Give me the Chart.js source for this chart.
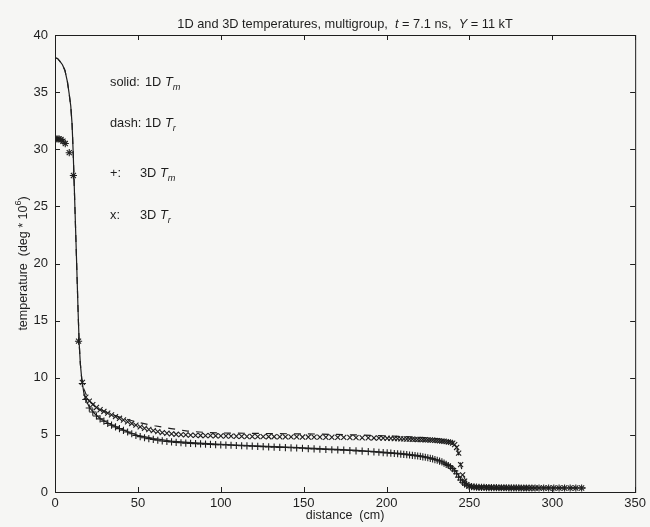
<!DOCTYPE html>
<html>
<head>
<script src="https://cdn.jsdelivr.net/npm/chart.js@4"></script>
<style>
  body { margin: 0; background: #f6f6f4; }
  canvas { display: block; }
</style>
</head>
<body>
<canvas id="chart" width="650" height="527"></canvas>
<script>
// 3D run: marker positions (cm) and temperatures (deg * 10^6)
const grid3d = [
  0, 1.2, 2.4, 3.6, 4.8, 6.2, 8.6, 11.1, 14.2, 16.5,
  18.6, 20.7, 22.8, 25.0, 27.2, 29.5, 31.8, 34.1, 36.5, 38.9,
  41.3, 43.8, 46.3, 48.8, 51.4, 54.0, 56.6, 59.3, 62.0, 64.7,
  67.5, 70.3, 73.1, 76.0, 78.9, 81.8, 84.8, 87.8, 90.8, 93.8,
  96.9, 100.0, 103.1, 106.2, 109.4, 112.6, 115.8, 119.0, 122.3, 125.6,
  128.9, 132.2, 135.6, 139.0, 142.4, 145.8, 149.3, 152.8, 156.3, 159.8,
  163.4, 167.0, 170.6, 174.2, 177.9, 181.6, 185.3, 189.0, 192.4, 195.4,
  198.0, 200.4, 202.6, 204.7, 206.7, 208.6, 210.4, 212.2, 213.9, 215.6,
  217.2, 218.8, 220.4, 221.9, 223.4, 224.9, 226.4, 227.8, 229.2, 230.6,
  232.0, 233.4, 234.7, 236.0, 237.3, 238.6, 239.9, 241.1, 242.3, 243.5,
  244.7, 245.9, 247.1, 248.4, 249.8, 251.3, 252.8, 254.3, 255.8, 257.3,
  258.8, 260.3, 261.8, 263.3, 264.8, 266.3, 267.8, 269.3, 270.8, 272.3,
  273.8, 275.3, 276.8, 278.3, 279.8, 281.3, 282.8, 284.4, 286.0, 287.7,
  289.6, 292.0, 294.8, 297.8, 300.9, 304.1, 307.4, 310.8, 314.2, 317.7
];
const tm3d = [
  30.9, 30.9, 30.9, 30.85, 30.7, 30.5, 29.7, 27.7, 13.2, 9.5,
  8.1, 7.35, 7.0, 6.65, 6.4, 6.2, 6.0, 5.85, 5.7, 5.55,
  5.4, 5.25, 5.1, 4.95, 4.85, 4.75, 4.67, 4.6, 4.53, 4.47,
  4.42, 4.38, 4.34, 4.31, 4.28, 4.25, 4.23, 4.21, 4.19, 4.17,
  4.15, 4.13, 4.11, 4.09, 4.07, 4.05, 4.03, 4.01, 3.99, 3.97,
  3.95, 3.93, 3.91, 3.89, 3.87, 3.85, 3.83, 3.8, 3.77, 3.74,
  3.72, 3.7, 3.68, 3.66, 3.63, 3.6, 3.57, 3.54, 3.51, 3.48,
  3.45, 3.42, 3.4, 3.37, 3.35, 3.32, 3.3, 3.27, 3.24, 3.21,
  3.18, 3.15, 3.12, 3.08, 3.04, 3.0, 2.95, 2.9, 2.84, 2.78,
  2.71, 2.63, 2.53, 2.42, 2.32, 2.2, 2.05, 1.85, 1.6, 1.3,
  1.05, 0.85, 0.7, 0.6, 0.52, 0.47, 0.44, 0.42, 0.41, 0.4,
  0.4, 0.39, 0.39, 0.38, 0.38, 0.38, 0.37, 0.37, 0.37, 0.37,
  0.36, 0.36, 0.36, 0.36, 0.36, 0.35, 0.35, 0.35, 0.35, 0.35,
  0.35, 0.35, 0.35, 0.35, 0.35, 0.35, 0.35, 0.35, 0.35, 0.35
];
const tr3d = [
  30.9, 30.9, 30.9, 30.85, 30.7, 30.5, 29.7, 27.7, 13.2, 9.6,
  8.3, 7.95, 7.65, 7.4, 7.2, 7.05, 6.9, 6.75, 6.6, 6.45,
  6.3, 6.15, 6.0, 5.85, 5.7, 5.58, 5.47, 5.37, 5.28, 5.2,
  5.14, 5.09, 5.05, 5.02, 5.0, 4.98, 4.96, 4.95, 4.94, 4.93,
  4.92, 4.91, 4.9, 4.89, 4.88, 4.87, 4.86, 4.86, 4.85, 4.85,
  4.84, 4.84, 4.83, 4.83, 4.82, 4.82, 4.81, 4.81, 4.8, 4.8,
  4.79, 4.79, 4.78, 4.78, 4.77, 4.76, 4.75, 4.74, 4.73, 4.72,
  4.71, 4.7, 4.69, 4.68, 4.67, 4.66, 4.65, 4.64, 4.63, 4.62,
  4.61, 4.6, 4.59, 4.58, 4.57, 4.56, 4.55, 4.54, 4.52, 4.5,
  4.48, 4.46, 4.44, 4.41, 4.38, 4.34, 4.28, 4.15, 3.9, 3.4,
  2.4, 1.5, 0.95, 0.65, 0.52, 0.47, 0.44, 0.42, 0.41, 0.4,
  0.4, 0.39, 0.39, 0.38, 0.38, 0.38, 0.37, 0.37, 0.37, 0.37,
  0.36, 0.36, 0.36, 0.36, 0.36, 0.35, 0.35, 0.35, 0.35, 0.35,
  0.35, 0.35, 0.35, 0.35, 0.35, 0.35, 0.35, 0.35, 0.35, 0.35
];

// 1D run: lines
const grid1d = [
  0, 1.5, 3, 4.5, 6, 7.5, 8.5, 9.5, 10.3, 11,
  12, 13, 14, 14.6, 15.3, 16.2, 17.5, 19, 21, 24,
  27, 30, 35, 40, 45, 50, 60, 70, 80, 90,
  100, 120, 140, 160, 180, 200, 210, 220, 228, 234,
  238, 241, 243, 245, 247, 249, 251, 254, 260, 280,
  300, 320
];
const tm1d = [
  38.0, 37.95, 37.7, 37.4, 36.9, 35.9, 34.9, 33.8, 32.2, 29.6,
  25.0, 20.3, 15.5, 13.0, 11.2, 9.8, 8.6, 7.95, 7.35, 6.85,
  6.45, 6.2, 5.82, 5.5, 5.2, 4.97, 4.68, 4.45, 4.34, 4.25,
  4.18, 4.05, 3.94, 3.8, 3.66, 3.48, 3.36, 3.18, 2.95, 2.65,
  2.35, 1.95, 1.55, 1.1, 0.78, 0.6, 0.5, 0.44, 0.4, 0.37,
  0.36, 0.35
];
const tr1d = [
  38.0, 37.95, 37.7, 37.4, 36.9, 35.9, 34.9, 33.8, 32.2, 29.6,
  25.0, 20.3, 15.5, 13.0, 11.2, 9.8, 9.0, 8.45, 7.95, 7.55,
  7.25, 7.05, 6.75, 6.5, 6.3, 6.1, 5.8, 5.55, 5.33, 5.22,
  5.17, 5.13, 5.1, 5.07, 5.0, 4.92, 4.86, 4.78, 4.7, 4.6,
  4.5, 4.35, 3.6, 2.2, 1.2, 0.75, 0.57, 0.46, 0.41, 0.38,
  0.37, 0.36
];

// in-plot key text
const noteKeys = ['solid:', 'dash:', '+:', 'x:'];
const noteRuns = ['1D', '1D', '3D', '3D'];
const noteSubs = ['m', 'r', 'm', 'r'];

const ink = '#1e1e1e';
const family = '"Liberation Sans", Arial, sans-serif';

function pts(xs, ys) {
  return xs.map((x, i) => ({ x: x, y: ys[i] }));
}

// draws text pieces with italic / sub / sup runs
function drawParts(ctx, parts, x, y, size, align) {
  const fontOf = p => (p.i ? 'italic ' : '') + ((p.sub || p.sup) ? size * 0.72 : size) + 'px ' + family;
  let w = 0;
  parts.forEach(p => { ctx.font = fontOf(p); w += ctx.measureText(p.t).width; });
  let cx = align === 'center' ? x - w / 2 : x;
  parts.forEach(p => {
    ctx.font = fontOf(p);
    const dy = p.sub ? size * 0.32 : p.sup ? -size * 0.45 : 0;
    ctx.fillText(p.t, cx, y + dy);
    cx += ctx.measureText(p.t).width;
  });
}

const frame = {
  id: 'frame',
  beforeDraw(chart) {
    const ctx = chart.ctx;
    ctx.save();
    ctx.fillStyle = '#f6f6f4';
    ctx.fillRect(0, 0, chart.width, chart.height);
    ctx.restore();
  },
  afterDraw(chart) {
    const ctx = chart.ctx;
    const a = chart.chartArea;
    const sx = chart.scales.x, sy = chart.scales.y;
    ctx.save();
    ctx.strokeStyle = ink;
    ctx.lineWidth = 1;
    ctx.strokeRect(a.left + 0.5, a.top + 0.5, a.right - a.left, a.bottom - a.top);
    ctx.beginPath();
    sx.ticks.forEach(t => {
      const p = Math.round(sx.getPixelForValue(t.value)) + 0.5;
      ctx.moveTo(p, a.bottom); ctx.lineTo(p, a.bottom - 5);
      ctx.moveTo(p, a.top); ctx.lineTo(p, a.top + 5);
    });
    sy.ticks.forEach(t => {
      const p = Math.round(sy.getPixelForValue(t.value)) + 0.5;
      ctx.moveTo(a.left, p); ctx.lineTo(a.left + 5, p);
      ctx.moveTo(a.right, p); ctx.lineTo(a.right - 5, p);
    });
    ctx.stroke();

    ctx.fillStyle = ink;
    ctx.textAlign = 'left';
    ctx.textBaseline = 'alphabetic';
    drawParts(ctx, [
      { t: '1D and 3D temperatures, multigroup,  ' }, { t: 't', i: true },
      { t: ' = 7.1 ns,  ' }, { t: 'Y', i: true }, { t: ' = 11 kT' }
    ], (a.left + a.right) / 2, 27.5, 12.8, 'center');

    drawParts(ctx, [{ t: 'distance  (cm)' }], (a.left + a.right) / 2, 519, 12.5, 'center');

    ctx.save();
    ctx.translate(27, (a.top + a.bottom) / 2);
    ctx.rotate(-Math.PI / 2);
    drawParts(ctx, [{ t: 'temperature  (deg * 10' }, { t: '6', sup: true }, { t: ')' }], 0, 0, 12.5, 'center');
    ctx.restore();

    const rows = [86, 127, 177, 219];
    noteKeys.forEach((k, i) => {
      drawParts(ctx, [{ t: k }], 110, rows[i], 12.8, 'left');
      drawParts(ctx, [{ t: noteRuns[i] + ' ' }, { t: 'T', i: true }, { t: noteSubs[i], i: true, sub: true }],
        i < 2 ? 145 : 140, rows[i], 12.8, 'left');
    });
    ctx.restore();
  }
};

const tickFont = { family: family, size: 13 };

new Chart(document.getElementById('chart'), {
  type: 'scatter',
  data: {
    datasets: [
      { label: '1D Tm', data: pts(grid1d, tm1d), showLine: true, borderColor: ink, borderWidth: 1.2, pointRadius: 0, tension: 0 },
      { label: '1D Tr', data: pts(grid1d, tr1d), showLine: true, borderColor: ink, borderWidth: 1.2, borderDash: [7, 7], pointRadius: 0, tension: 0 },
      { label: '3D Tm', data: pts(grid3d, tm3d), pointStyle: 'cross', pointRadius: 3.6, pointBorderColor: ink, pointBorderWidth: 1.1, borderColor: ink },
      { label: '3D Tr', data: pts(grid3d, tr3d), pointStyle: 'crossRot', pointRadius: 3.6, pointBorderColor: ink, pointBorderWidth: 1.1, borderColor: ink }
    ]
  },
  options: {
    responsive: false,
    animation: false,
    events: [],
    layout: { padding: { top: 35, right: 11, left: 0, bottom: 0 } },
    plugins: { legend: { display: false }, tooltip: { enabled: false } },
    scales: {
      x: {
        type: 'linear', min: 0, max: 350,
        ticks: { stepSize: 50, color: ink, font: tickFont, padding: 4, maxRotation: 0 },
        grid: { display: false, drawTicks: false },
        border: { display: false },
        afterFit: s => { s.height = 35; }
      },
      y: {
        type: 'linear', min: 0, max: 40,
        ticks: { stepSize: 5, color: ink, font: tickFont, padding: 7 },
        grid: { display: false, drawTicks: false },
        border: { display: false },
        afterFit: s => { s.width = 55; }
      }
    }
  },
  plugins: [frame]
});
</script>
</body>
</html>
